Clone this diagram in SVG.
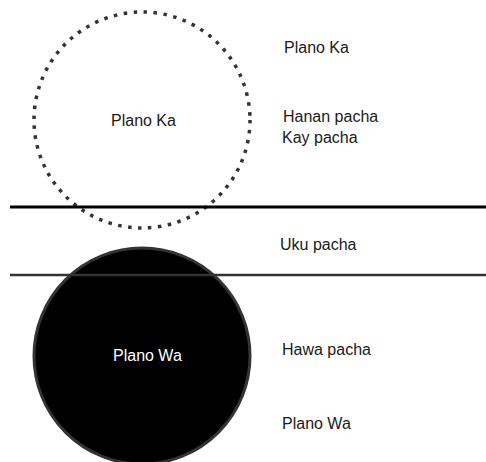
<svg xmlns="http://www.w3.org/2000/svg" width="486" height="462" viewBox="0 0 486 462">
<style>
text{font-family:"Liberation Sans",Arial,sans-serif;font-size:16px;fill:#1a1a1a}
.w{fill:#ffffff}
</style>
<rect width="486" height="462" fill="#ffffff"/>
<g id="plano-ka-circle">
<circle cx="142" cy="120" r="108" fill="none" stroke="#333333" stroke-width="3.5" stroke-dasharray="3.5 6.5"/>
<text x="111" y="126">Plano Ka</text>
</g>
<g id="plano-wa-circle">
<circle cx="142" cy="356" r="108" fill="#000000" stroke="#333333" stroke-width="3"/>
<text class="w" x="113" y="361">Plano Wa</text>
</g>
<g id="lines">
<line x1="10" y1="207" x2="486" y2="207" stroke="#000000" stroke-width="3"/>
<line x1="10" y1="275" x2="486" y2="275" stroke="#333333" stroke-width="2.5"/>
</g>
<g id="labels">
<text x="284" y="53">Plano Ka</text>
<text x="283" y="122">Hanan pacha</text>
<text x="282" y="143">Kay pacha</text>
<text x="280" y="250">Uku pacha</text>
<text x="282" y="355">Hawa pacha</text>
<text x="282" y="429">Plano Wa</text>
</g>
</svg>
